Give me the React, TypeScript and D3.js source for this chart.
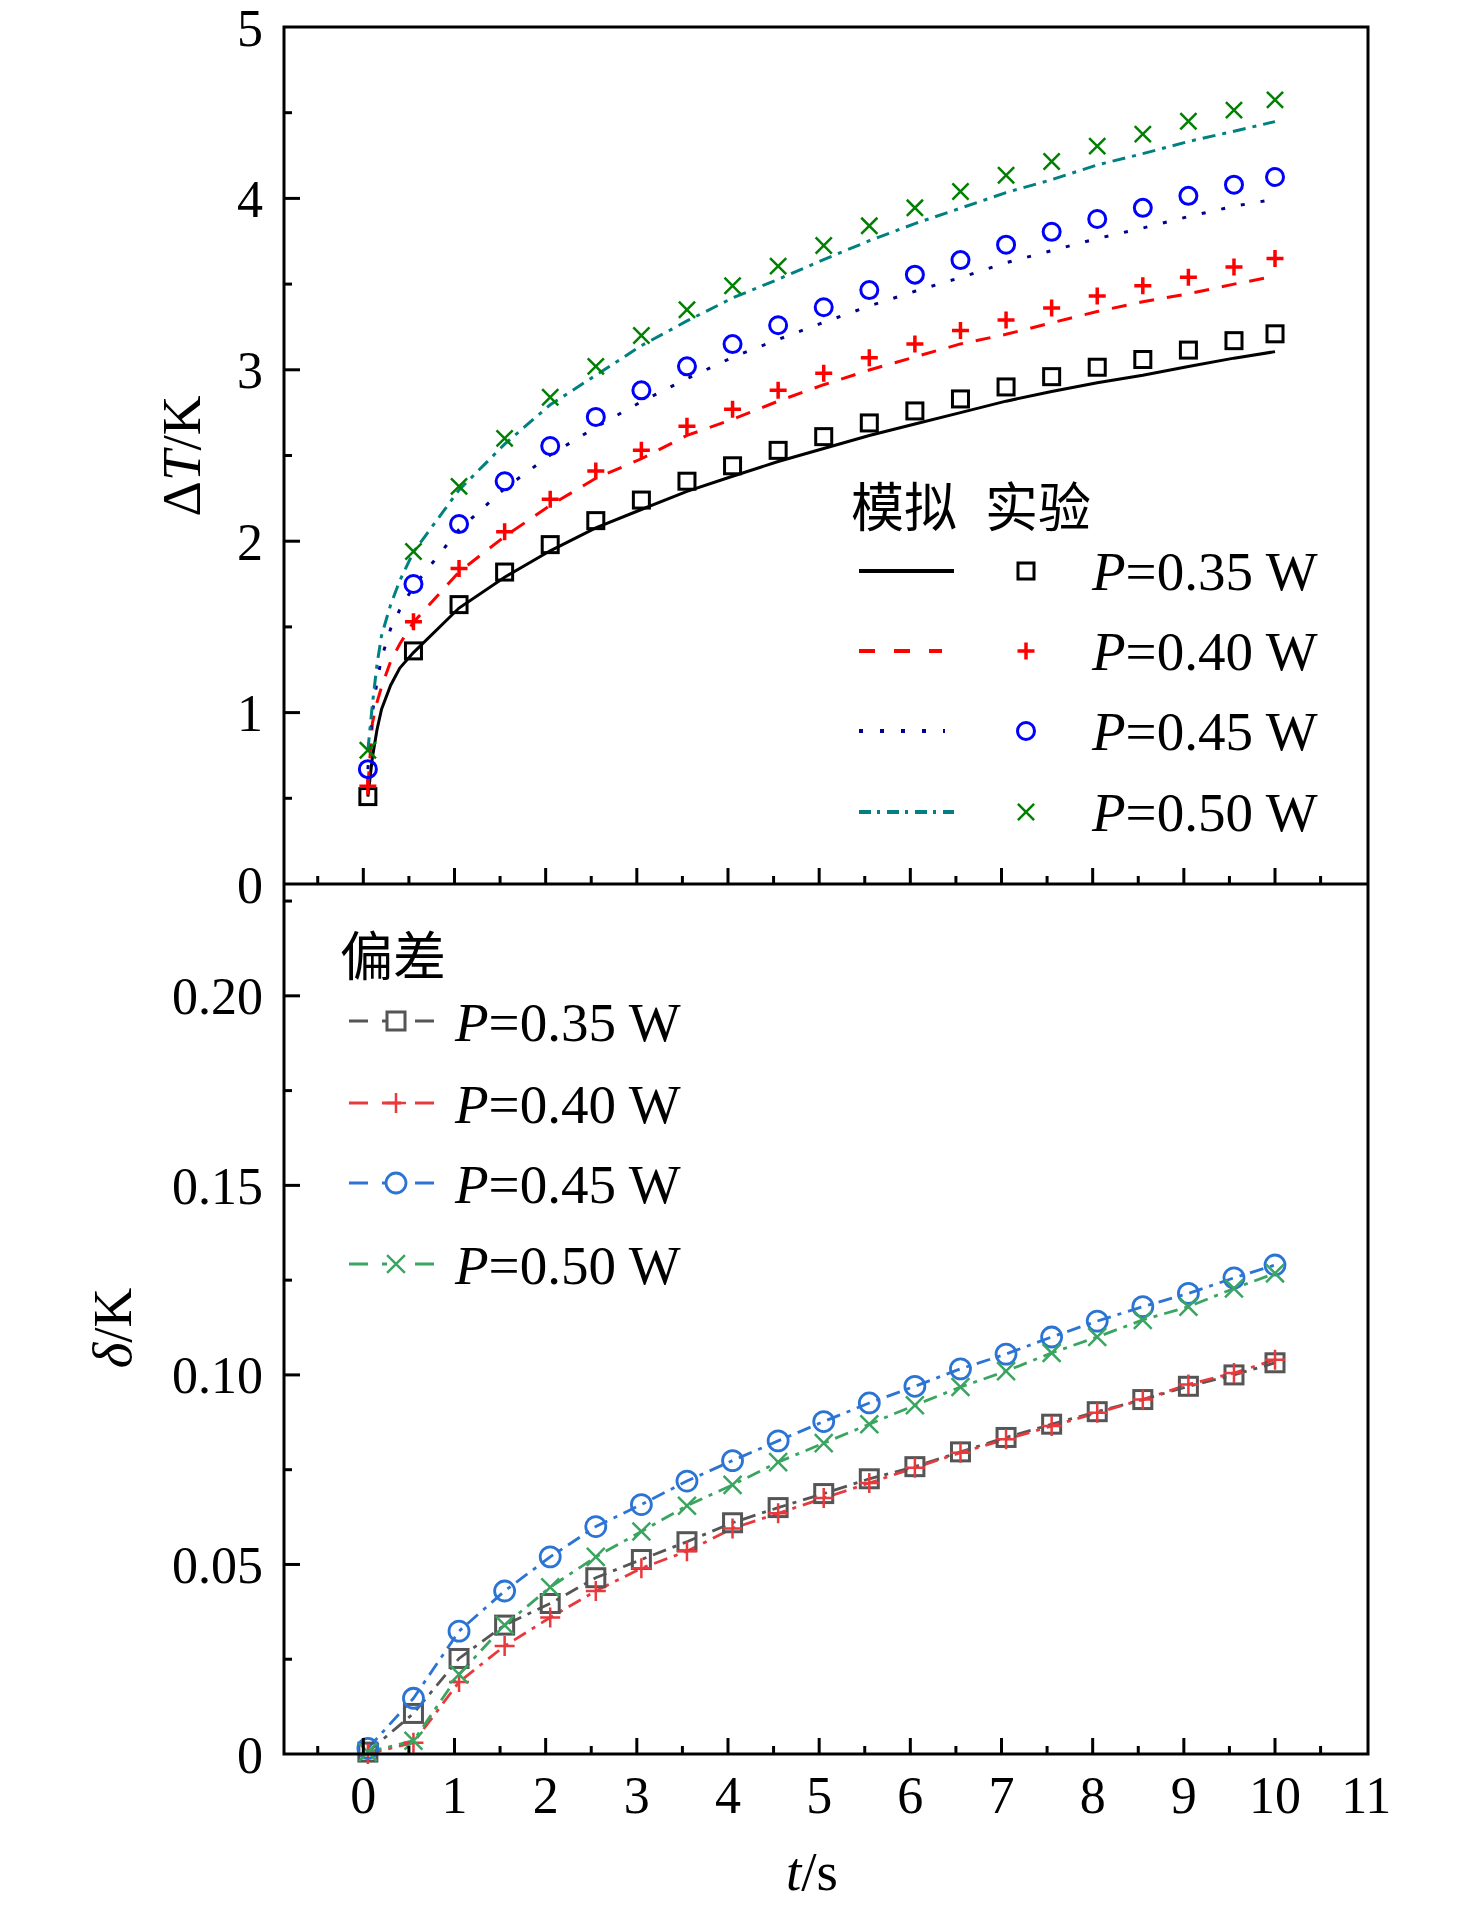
import React from 'react'
import * as d3 from 'd3'

// sampling times (s)
const times = [0.05, 0.55, 1.05, 1.55, 2.05, 2.55, 3.05, 3.55, 4.05, 4.55, 5.05, 5.55, 6.05, 6.55, 7.05, 7.55, 8.05, 8.55, 9.05, 9.55, 10]
const simTimes = [0.05, 0.1, 0.15, 0.2, 0.3, 0.4, 0.55, 1.05, 1.55, 2.05, 2.55, 3.05, 3.55, 4.05, 4.55, 5.05, 5.55, 6.05, 6.55, 7.05, 7.55, 8.05, 8.55, 9.05, 9.55, 10]

const powers = ['0.35', '0.40', '0.45', '0.50']

// experiment (markers, upper panel)
const exp035 = [0.51, 1.36, 1.63, 1.82, 1.98, 2.12, 2.24, 2.35, 2.44, 2.53, 2.61, 2.69, 2.76, 2.83, 2.9, 2.96, 3.015, 3.06, 3.115, 3.17, 3.21]
const exp040 = [0.57, 1.53, 1.84, 2.055, 2.245, 2.41, 2.53, 2.67, 2.77, 2.88, 2.98, 3.07, 3.15, 3.23, 3.29, 3.36, 3.43, 3.49, 3.54, 3.6, 3.65]
const exp045 = [0.67, 1.75, 2.1, 2.35, 2.555, 2.725, 2.88, 3.02, 3.15, 3.26, 3.365, 3.465, 3.555, 3.64, 3.73, 3.805, 3.88, 3.945, 4.015, 4.08, 4.125]
const exp050 = [0.78, 1.94, 2.32, 2.6, 2.84, 3.02, 3.2, 3.35, 3.49, 3.605, 3.725, 3.84, 3.945, 4.04, 4.135, 4.215, 4.305, 4.375, 4.45, 4.515, 4.575]

// simulation (lines, upper panel)
const sim035 = [0.51, 0.74, 0.9, 1.02, 1.16, 1.26, 1.35, 1.61, 1.79, 1.944, 2.078, 2.185, 2.291, 2.379, 2.465, 2.541, 2.617, 2.684, 2.75, 2.817, 2.873, 2.925, 2.968, 3.019, 3.068, 3.106]
const sim040 = [0.57, 0.94, 1.06, 1.15, 1.3, 1.4, 1.527, 1.821, 2.027, 2.209, 2.367, 2.481, 2.617, 2.711, 2.817, 2.913, 2.999, 3.075, 3.151, 3.207, 3.274, 3.34, 3.397, 3.443, 3.5, 3.546]
const sim045 = [0.67, 1.0, 1.18, 1.32, 1.49, 1.6, 1.735, 2.068, 2.307, 2.503, 2.665, 2.814, 2.948, 3.073, 3.177, 3.277, 3.372, 3.458, 3.538, 3.625, 3.695, 3.766, 3.827, 3.894, 3.954, 3.996]
const sim050 = [0.78, 1.05, 1.28, 1.45, 1.63, 1.77, 1.937, 2.299, 2.566, 2.796, 2.968, 3.141, 3.285, 3.419, 3.528, 3.643, 3.753, 3.853, 3.943, 4.034, 4.109, 4.195, 4.261, 4.332, 4.392, 4.448]

// deviation (lower panel)
const dev035 = [0.0005, 0.0107, 0.0252, 0.034, 0.0397, 0.0465, 0.0513, 0.056, 0.061, 0.065, 0.0687, 0.0726, 0.0758, 0.0797, 0.0835, 0.087, 0.0903, 0.0935, 0.097, 0.1, 0.1032]
const dev040 = [0.0, 0.003, 0.019, 0.0285, 0.036, 0.043, 0.049, 0.0535, 0.0595, 0.0635, 0.0675, 0.0715, 0.0755, 0.0795, 0.083, 0.0865, 0.09, 0.0935, 0.0975, 0.1005, 0.104]
const dev045 = [0.0015, 0.0147, 0.0324, 0.043, 0.052, 0.06, 0.0658, 0.072, 0.0774, 0.0826, 0.0877, 0.0926, 0.097, 0.1016, 0.1055, 0.11, 0.1142, 0.118, 0.1215, 0.1256, 0.129]
const dev050 = [0.0005, 0.0035, 0.021, 0.034, 0.044, 0.052, 0.0587, 0.0655, 0.071, 0.077, 0.082, 0.087, 0.092, 0.0968, 0.101, 0.1058, 0.11, 0.1145, 0.118, 0.1228, 0.1268]

// ticks
const xTicks = [0, 1, 2, 3, 4, 5, 6, 7, 8, 9, 10, 11]
const xMinorTicks = [-0.5, 0.5, 1.5, 2.5, 3.5, 4.5, 5.5, 6.5, 7.5, 8.5, 9.5, 10.5]
const topTicks = [0, 1, 2, 3, 4, 5]
const topMinorTicks = [0.5, 1.5, 2.5, 3.5, 4.5]
const botTicks = [0, 0.05, 0.1, 0.15, 0.2]
const botTickLabels = ['0', '0.05', '0.10', '0.15', '0.20']
const botMinorTicks = [0.025, 0.075, 0.125, 0.175, 0.225]

const W = 1476
const H = 1910
const left = 284
const right = 1368
const top = 27
const mid = 884
const bottom = 1754

const serif = '"Liberation Serif", "Times New Roman", serif'
const cjk = '"Noto Sans CJK SC", sans-serif'

type Shape = 'square' | 'plus' | 'circle' | 'cross'

function Marker({ shape, x, y, size, color, sw, fill = 'none' }: { shape: Shape; x: number; y: number; size: number; color: string; sw: number; fill?: string }) {
  const h = size / 2
  if (shape === 'square') return <rect x={x - h} y={y - h} width={size} height={size} fill={fill} stroke={color} strokeWidth={sw} />
  if (shape === 'circle') return <circle cx={x} cy={y} r={h} fill={fill} stroke={color} strokeWidth={sw} />
  if (shape === 'plus') return <path d={`M${x - h},${y}H${x + h}M${x},${y - h}V${y + h}`} stroke={color} strokeWidth={sw} fill="none" />
  const k = h * 0.85
  return (
    <g>
      {fill !== 'none' && <rect x={x - k} y={y - k} width={2 * k} height={2 * k} fill={fill} />}
      <path d={`M${x - k},${y - k}L${x + k},${y + k}M${x - k},${y + k}L${x + k},${y - k}`} stroke={color} strokeWidth={sw} fill="none" />
    </g>
  )
}

export default function App() {
  const x = d3.scaleLinear().domain([-0.87, 11.02]).range([left, right])
  const yTop = d3.scaleLinear().domain([0, 5]).range([mid, top])
  const yBot = d3.scaleLinear().domain([0, 0.2295]).range([bottom, mid])

  const upper = [
    { exp: exp035, sim: sim035, shape: 'square' as Shape, mColor: '#000000', lColor: '#000000', dash: '', msize: 16, msw: 3 },
    { exp: exp040, sim: sim040, shape: 'plus' as Shape, mColor: '#ff0000', lColor: '#ff0000', dash: '15,13', msize: 17, msw: 3.5 },
    { exp: exp045, sim: sim045, shape: 'circle' as Shape, mColor: '#0000ff', lColor: '#00008b', dash: '4,16', msize: 17, msw: 3 },
    { exp: exp050, sim: sim050, shape: 'cross' as Shape, mColor: '#008000', lColor: '#008080', dash: '13,7,4,7', msize: 19, msw: 2.5 },
  ]
  const lower = [
    { dev: dev035, shape: 'square' as Shape, color: '#555555', msize: 18, msw: 3 },
    { dev: dev040, shape: 'plus' as Shape, color: '#e8393d', msize: 20, msw: 2.5 },
    { dev: dev045, shape: 'circle' as Shape, color: '#2c74d4', msize: 20, msw: 2.8 },
    { dev: dev050, shape: 'cross' as Shape, color: '#3aa560', msize: 21, msw: 2.5 },
  ]

  const simLine = d3.line<number>().x((_, i) => x(simTimes[i])).y(d => yTop(d))
  const devLine = d3.line<number>().x((_, i) => x(times[i])).y(d => yBot(d))

  const upLegendY = [571, 651, 731, 812]
  const upLegendLineEnd = [954, 942, 945, 954]
  const lowLegendY = [1021, 1103, 1183, 1264]

  return (
    <svg width={W} height={H} style={{ position: 'absolute', left: 0, top: 0, background: '#fff' }}>
      <rect width={W} height={H} fill="#fff" />

      {/* upper panel: simulation lines and experiment markers */}
      {upper.map((s, i) => (
        <path key={`sl${i}`} d={simLine(s.sim) || ''} fill="none" stroke={s.lColor} strokeWidth={3} strokeDasharray={s.dash || undefined} />
      ))}
      {upper.map((s, i) => (
        <g key={`sm${i}`}>
          {s.exp.map((v, j) => (
            <Marker key={j} shape={s.shape} x={x(times[j])} y={yTop(v)} size={s.msize} color={s.mColor} sw={s.msw} />
          ))}
        </g>
      ))}

      {/* lower panel: deviations */}
      {lower.map((s, i) => (
        <path key={`dl${i}`} d={devLine(s.dev) || ''} fill="none" stroke={s.color} strokeWidth={2.8} strokeDasharray="14,7,4,7" />
      ))}
      {lower.map((s, i) => (
        <g key={`dm${i}`}>
          {s.dev.map((v, j) => (
            <Marker key={j} shape={s.shape} x={x(times[j])} y={yBot(v)} size={s.msize} color={s.color} sw={s.msw} />
          ))}
        </g>
      ))}

      {/* frame */}
      <rect x={left} y={top} width={right - left} height={bottom - top} fill="none" stroke="#000" strokeWidth={3} />
      <line x1={left} x2={right} y1={mid} y2={mid} stroke="#000" strokeWidth={3} />

      {/* x ticks on divider and bottom */}
      {[mid, bottom].map(base => (
        <g key={`xt${base}`} stroke="#000" strokeWidth={3}>
          {xTicks.filter(t => t < 11).map(t => (
            <line key={t} x1={x(t)} x2={x(t)} y1={base} y2={base - 16} />
          ))}
          {xMinorTicks.map(t => (
            <line key={`m${t}`} x1={x(t)} x2={x(t)} y1={base} y2={base - 8} />
          ))}
        </g>
      ))}
      {xTicks.map(t => (
        <text key={`xl${t}`} x={x(t)} y={1813} textAnchor="middle" fontFamily={serif} fontSize={52}>{t}</text>
      ))}

      {/* upper y ticks */}
      <g stroke="#000" strokeWidth={3}>
        {topTicks.filter(t => t > 0 && t < 5).map(t => (
          <line key={t} x1={left} x2={left + 16} y1={yTop(t)} y2={yTop(t)} />
        ))}
        {topMinorTicks.map(t => (
          <line key={`m${t}`} x1={left} x2={left + 8} y1={yTop(t)} y2={yTop(t)} />
        ))}
      </g>
      {topTicks.map(t => (
        <text key={`yl${t}`} x={263} y={yTop(t) + 18.5} textAnchor="end" fontFamily={serif} fontSize={52}>{t}</text>
      ))}

      {/* lower y ticks */}
      <g stroke="#000" strokeWidth={3}>
        {botTicks.filter(t => t > 0).map(t => (
          <line key={t} x1={left} x2={left + 16} y1={yBot(t)} y2={yBot(t)} />
        ))}
        {botMinorTicks.map(t => (
          <line key={`m${t}`} x1={left} x2={left + 8} y1={yBot(t)} y2={yBot(t)} />
        ))}
      </g>
      {botTicks.map((t, i) => (
        <text key={`bl${t}`} x={263} y={yBot(t) + 18.5} textAnchor="end" fontFamily={serif} fontSize={52}>{botTickLabels[i]}</text>
      ))}

      {/* axis titles */}
      <text transform="translate(200,456) rotate(-90)" textAnchor="middle" fontFamily={serif} fontSize={55}>
        Δ<tspan fontStyle="italic">T</tspan>/K
      </text>
      <text transform="translate(131,1328) rotate(-90)" textAnchor="middle" fontFamily={serif} fontSize={55}>
        <tspan fontStyle="italic">δ</tspan>/K
      </text>
      <text x={812} y={1890} textAnchor="middle" fontFamily={serif} fontSize={55}>
        <tspan fontStyle="italic">t</tspan>/s
      </text>

      {/* upper legend */}
      <text x={851} y={527} fontFamily={cjk} fontSize={53}>模拟</text>
      <text x={985} y={527} fontFamily={cjk} fontSize={53}>实验</text>
      {upper.map((s, i) => (
        <g key={`ul${i}`}>
          <line x1={859} x2={upLegendLineEnd[i]} y1={upLegendY[i]} y2={upLegendY[i]} stroke={s.lColor} strokeWidth={4} strokeDasharray={i === 1 ? '16,19' : i === 2 ? '4,17' : i === 3 ? '12,6,3,7' : undefined} />
          <Marker shape={s.shape} x={1026} y={upLegendY[i]} size={s.msize} color={s.mColor} sw={s.msw} />
          <text x={1092} y={upLegendY[i] + 19} fontFamily={serif} fontSize={55}>
            <tspan fontStyle="italic">P</tspan>={powers[i]} W
          </text>
        </g>
      ))}

      {/* lower legend */}
      <text x={340} y={976} fontFamily={cjk} fontSize={53}>偏差</text>
      {lower.map((s, i) => (
        <g key={`ll${i}`}>
          <line x1={349} x2={436} y1={lowLegendY[i]} y2={lowLegendY[i]} stroke={s.color} strokeWidth={3} strokeDasharray="19,14" />
          <Marker shape={s.shape} x={396} y={lowLegendY[i]} size={s.msize} color={s.color} sw={s.msw} fill="#fff" />
          <text x={455} y={lowLegendY[i] + 20} fontFamily={serif} fontSize={55}>
            <tspan fontStyle="italic">P</tspan>={powers[i]} W
          </text>
        </g>
      ))}
    </svg>
  )
}
